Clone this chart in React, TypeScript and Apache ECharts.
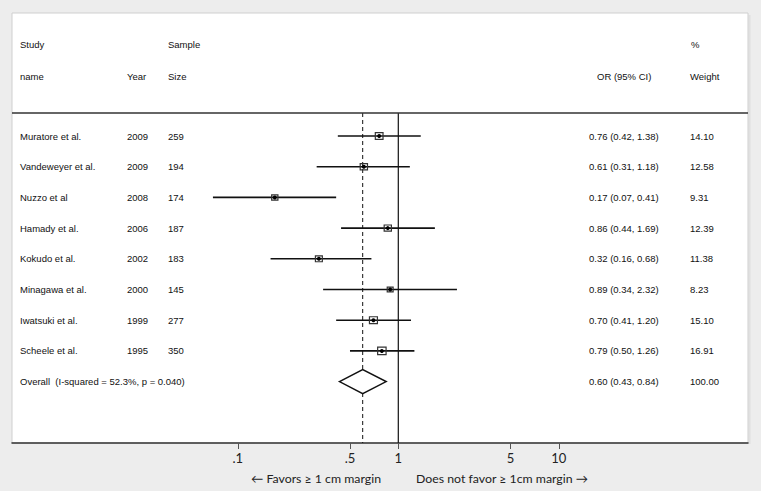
import React, { useEffect, useRef } from "react";
import * as echarts from "echarts";

const studies = ["Muratore et al.", "Vandeweyer et al.", "Nuzzo et al", "Hamady et al.", "Kokudo et al.", "Minagawa et al.", "Iwatsuki et al.", "Scheele et al."];
const years = [2009, 2009, 2008, 2006, 2002, 2000, 1999, 1995];
const sizes = [259, 194, 174, 187, 183, 145, 277, 350];
const orValues = [0.76, 0.61, 0.17, 0.86, 0.32, 0.89, 0.70, 0.79];
const ciLow = [0.42, 0.31, 0.07, 0.44, 0.16, 0.34, 0.41, 0.50];
const ciHigh = [1.38, 1.18, 0.41, 1.69, 0.68, 2.32, 1.20, 1.26];
const weights = [14.10, 12.58, 9.31, 12.39, 11.38, 8.23, 15.10, 16.91];
const overallLabel = "Overall  (I-squared = 52.3%, p = 0.040)";
const overallOR = 0.60;
const overallLow = 0.43;
const overallHigh = 0.84;
const overallWeight = 100.0;
const tickValues = [0.1, 0.5, 1, 5, 10];
const tickLabels = [".1", ".5", "1", "5", "10"];

const fmt2 = (v: number) => v.toFixed(2);

export default function App() {
  const ref = useRef<HTMLDivElement>(null);
  useEffect(() => {
    if (!ref.current) return;
    const chart = echarts.init(ref.current, undefined, { renderer: "svg" });

    const W = 761;
    const panelL = 12, panelR = 748, panelT = 13, axisY = 443, topLineY = 113;
    const onePx = 398.3, decade = 160.5;
    const xMin = Math.pow(10, -(onePx - panelL) / decade);
    const xMax = Math.pow(10, (panelR - onePx) / decade);

    const txt = "#111";
    const tFont = "Liberation Sans, Arial, sans-serif";
    const tSize = 9.5;

    const rows: any[] = studies.map((s, i) => [orValues[i], i, ciLow[i], ciHigh[i], weights[i]]);
    const textRows: any[] = studies.map((s, i) => [1, i, s, String(years[i]), String(sizes[i]),
      `${fmt2(orValues[i])} (${fmt2(ciLow[i])}, ${fmt2(ciHigh[i])})`, fmt2(weights[i])]);
    textRows.push([1, studies.length, overallLabel, "", "",
      `${fmt2(overallOR)} (${fmt2(overallLow)}, ${fmt2(overallHigh)})`, fmt2(overallWeight)]);

    const colX = [20, 127, 168, 589, 690];

    const headerText = (x: number, y: number, text: string) => ({
      type: "text", x, y,
      style: { text, fill: txt, font: `${tSize}px ${tFont}`, verticalAlign: "middle" },
      z: 10,
    });

    chart.setOption({
      animation: false,
      backgroundColor: "#ededed",
      grid: { left: panelL, right: W - panelR, top: topLineY, bottom: 491 - axisY, containLabel: false },
      xAxis: [{
        type: "log",
        min: xMin,
        max: xMax,
        logBase: 10,
        axisLine: { show: true, onZero: false, lineStyle: { color: "#333", width: 1.5 } },
        axisTick: { show: true, length: 6, lineStyle: { color: "#555", width: 1 }, customValues: tickValues },
        axisLabel: {
          show: true, margin: 8, color: "#222", fontSize: 13, fontFamily: "Lato, Open Sans, sans-serif",
          customValues: tickValues,
          formatter: (v: number) => {
            const idx = tickValues.findIndex((t) => Math.abs(t - v) < 1e-6 * Math.max(1, t));
            return idx >= 0 ? tickLabels[idx] : "";
          },
        },
        splitLine: { show: false },
      }],
      yAxis: [{
        type: "value", inverse: true, min: -0.75, max: 10, show: false,
      }],
      graphic: [
        {
          type: "rect", shape: { x: panelL, y: panelT, width: panelR - panelL, height: axisY - panelT },
          style: { fill: "#ffffff", stroke: "#cfcfcf", lineWidth: 1 }, z: -10, silent: true,
        },
        {
          type: "line", shape: { x1: panelR + 1.5, y1: panelT + 2, x2: panelR + 1.5, y2: axisY + 1 },
          style: { stroke: "#e0e0e0", lineWidth: 2 }, z: -11, silent: true,
        },
        {
          type: "line", shape: { x1: panelL, y1: topLineY, x2: panelR, y2: topLineY },
          style: { stroke: "#333", lineWidth: 1.5 }, z: 5, silent: true,
        },
        headerText(20, 44, "Study"),
        headerText(168, 44, "Sample"),
        headerText(691, 44, "%"),
        headerText(20, 76, "name"),
        headerText(127, 76, "Year"),
        headerText(168, 76, "Size"),
        headerText(597, 76, "OR (95% CI)"),
        headerText(690, 76, "Weight"),
        {
          type: "text", x: 316, y: 478,
          style: { text: "\u2190 Favors \u2265 1 cm margin", fill: "#222", font: "12.3px Lato, Open Sans, sans-serif", align: "center", verticalAlign: "middle" },
        },
        {
          type: "text", x: 502, y: 478,
          style: { text: "Does not favor \u2265 1cm margin \u2192", fill: "#222", font: "12.3px Lato, Open Sans, sans-serif", align: "center", verticalAlign: "middle" },
        },
      ],
      series: [
        {
          type: "custom",
          name: "refLines",
          coordinateSystem: "cartesian2d",
          data: [[1, 0], [overallOR, 1]],
          renderItem: (params: any, api: any) => {
            const x = api.value(0);
            const dashed = api.value(1) === 1;
            const p1 = api.coord([x, -0.75]);
            const p2 = api.coord([x, 10]);
            return {
              type: "line",
              shape: { x1: p1[0], y1: p1[1], x2: p2[0], y2: p2[1] },
              style: { stroke: "#111", lineWidth: dashed ? 1 : 1.2, lineDash: dashed ? [4, 3] : null },
            };
          },
          z: 2,
        },
        {
          type: "custom",
          name: "studies",
          coordinateSystem: "cartesian2d",
          data: rows,
          renderItem: (params: any, api: any) => {
            const est = api.value(0), row = api.value(1), lo = api.value(2), hi = api.value(3), w = api.value(4);
            const pc = api.coord([est, row]);
            const pl = api.coord([lo, row]);
            const ph = api.coord([hi, row]);
            const s = 2.05 * Math.sqrt(w);
            return {
              type: "group",
              children: [
                { type: "line", shape: { x1: pl[0], y1: pl[1], x2: ph[0], y2: ph[1] }, style: { stroke: "#111", lineWidth: 1.6 } },
                { type: "rect", shape: { x: pc[0] - s / 2, y: pc[1] - s / 2 + 0.5, width: s, height: s - 1 }, style: { fill: "none", stroke: "#333", lineWidth: 1.2 } },
                { type: "circle", shape: { cx: pc[0], cy: pc[1], r: 2 }, style: { fill: "#000" } },
              ],
            };
          },
          z: 3,
        },
        {
          type: "custom",
          name: "overall",
          coordinateSystem: "cartesian2d",
          data: [[overallOR, studies.length, overallLow, overallHigh]],
          renderItem: (params: any, api: any) => {
            const est = api.value(0), row = api.value(1), lo = api.value(2), hi = api.value(3);
            const pc = api.coord([est, row]);
            const pl = api.coord([lo, row]);
            const ph = api.coord([hi, row]);
            const h = 12;
            return {
              type: "polygon",
              shape: { points: [[pl[0], pc[1]], [pc[0], pc[1] - h], [ph[0], pc[1]], [pc[0], pc[1] + h]] },
              style: { fill: "#fff", stroke: "#111", lineWidth: 1.5 },
            };
          },
          z: 3,
        },
        {
          type: "custom",
          name: "table",
          coordinateSystem: "cartesian2d",
          data: textRows,
          renderItem: (params: any, api: any) => {
            const idx = params.dataIndex;
            const r = textRows[idx];
            const y = api.coord([1, r[1]])[1];
            const children: any[] = [];
            for (let c = 0; c < 5; c++) {
              const t = r[c + 2];
              if (!t) continue;
              children.push({
                type: "text", x: colX[c], y,
                style: { text: t, fill: txt, font: `${tSize}px ${tFont}`, verticalAlign: "middle" },
              });
            }
            return { type: "group", children };
          },
          z: 4,
        },
      ],
    });
    return () => chart.dispose();
  }, []);
  return <div ref={ref} style={{ position: "fixed", left: 0, top: 0, width: 761, height: 491 }} />;
}
